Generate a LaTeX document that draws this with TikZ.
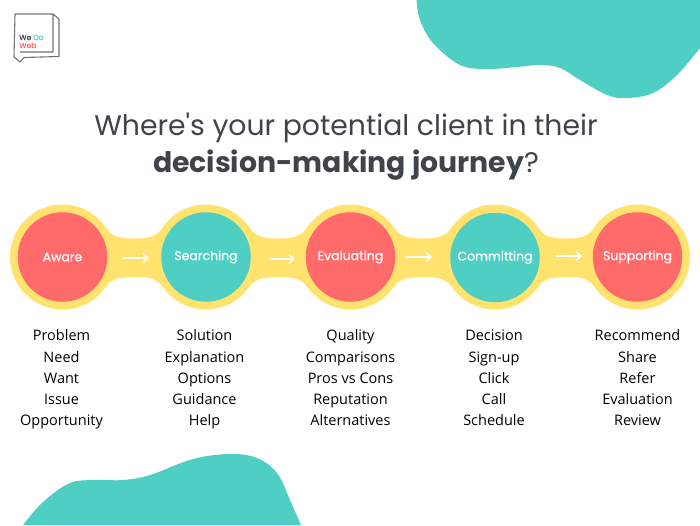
\documentclass[tikz,border=0pt]{standalone}
\usepackage{fontspec}
\setmainfont{Open Sans}
\newfontfamily\stagefont[FakeBold=0.5]{Poppins}
\newfontfamily\logofont[FakeBold=0.2]{Poppins}
\newfontfamily\titlefont{Poppins}
\usetikzlibrary{arrows.meta,calc}
\definecolor{teal}{HTML}{4FCFC4}
\definecolor{coral}{HTML}{FF6B6B}
\definecolor{sun}{HTML}{FFE36E}
\definecolor{ink}{HTML}{3F444B}
\tikzset{
 stage/.style={circle,minimum size=89.5pt,inner sep=0pt,text=white,font=\stagefont\fontsize{12.5}{14}\selectfont},
 halo/.style={circle,minimum size=105pt,inner sep=0pt,fill=sun},
 flow/.style={white,line width=1.5pt,-{Straight Barb[length=5pt,width=9pt]}},
 items/.style={align=center,text=black,font=\fontsize{14.5}{21.25}\selectfont,anchor=north},
 blob/.style={fill=teal},
 logo/.style={draw=gray!90!black,line width=1.1pt,line join=round}
}
\begin{document}
\begin{tikzpicture}[x=1pt,y=-1pt]
\useasboundingbox (0,0) rectangle (700,525);
\fill[blob] plot[smooth,tension=0.6] coordinates {(416.5,0) (420,20) (433,43) (460,65) (487,69) (517,67) (540,65) (560,68) (580,80) (607,95) (627,98) (653,93) (677,75) (700,48)} -- (700,0) -- cycle;
\fill[blob] plot[smooth,tension=0.6] coordinates {(23,525) (43,502) (70,483) (97,480) (123,480) (150,475) (193,459) (230,454) (257,458) (277,473) (290,500) (301,525)} -- cycle;
% logo
\draw[logo] (20,52) -- (53,52) -- (53,14) -- (15,14) -- (14,57) -- (20,62) -- (24,57.5) -- (59,56.5) -- (59,19) -- (53,14);
\node[font=\logofont\fontsize{7.6}{8}\selectfont,align=left,anchor=west,inner sep=0pt] (logotext) at (19,41.5) {\textcolor{ink}{We} \textcolor{teal}{Do}\\\textcolor{coral}{Web}};
% title
\node[font=\titlefont\fontsize{28.3}{37}\selectfont,text=ink,align=center,inner sep=0] (title) at (346,147) {Where\symbol{39}s your potential client in their\\\textbf{decision-making journey}?};
% band
\node[halo] (h1) at (62.5,257) {};
\node[halo] (h2) at (206,257) {};
\node[halo] (h3) at (350.5,257) {};
\node[halo] (h4) at (495,257) {};
\node[halo] (h5) at (637.5,257) {};
\foreach \a/\b in {h1/h2,h2/h3,h3/h4,h4/h5}{
 \fill[sun] ($(\a)+(43,-30)$) .. controls ($(\a)!.5!(\b)+(-22,-18.5)$) and ($(\a)!.5!(\b)+(-10,-18.5)$) .. ($(\a)!.5!(\b)+(0,-18.5)$) .. controls ($(\a)!.5!(\b)+(10,-18.5)$) and ($(\a)!.5!(\b)+(22,-18.5)$) .. ($(\b)+(-43,-30)$) -- ($(\b)+(-43,30)$) .. controls ($(\a)!.5!(\b)+(22,20)$) and ($(\a)!.5!(\b)+(10,20)$) .. ($(\a)!.5!(\b)+(0,20)$) .. controls ($(\a)!.5!(\b)+(-10,20)$) and ($(\a)!.5!(\b)+(-22,20)$) .. ($(\a)+(43,30)$) -- cycle;
}
\node[stage,fill=coral] (aware) at (62.5,257) {Aware};
\node[stage,fill=teal] (searching) at (206,257) {Searching};
\node[stage,fill=coral] (evaluating) at (350.5,257) {Evaluating};
\node[stage,fill=teal] (committing) at (495,257.5) {Committing};
\node[stage,fill=coral] (supporting) at (637.5,257) {Supporting};
\coordinate (a1) at (123,258); \coordinate (a2) at (149,258);
\coordinate (b1) at (269,259); \coordinate (b2) at (295,259);
\coordinate (c1) at (406,257); \coordinate (c2) at (432,257);
\coordinate (d1) at (556,256); \coordinate (d2) at (582,256);
\draw[flow] (a1) -- (a2);
\draw[flow] (b1) -- (b2);
\draw[flow] (c1) -- (c2);
\draw[flow] (d1) -- (d2);
\node[items] (l1) at (61.5,322.5) {\strut Problem\\Need\\Want\\Issue\\Opportunity};
\node[items] (l2) at (204.5,322.5) {\strut Solution\\Explanation\\Options\\Guidance\\Help};
\node[items] (l3) at (350.5,322.5) {\strut Quality\\Comparisons\\Pros vs Cons\\Reputation\\Alternatives};
\node[items] (l4) at (494,322.5) {\strut Decision\\Sign-up\\Click\\Call\\Schedule};
\node[items] (l5) at (637.5,322.5) {\strut Recommend\\Share\\Refer\\Evaluation\\Review};
\end{tikzpicture}
\end{document}
